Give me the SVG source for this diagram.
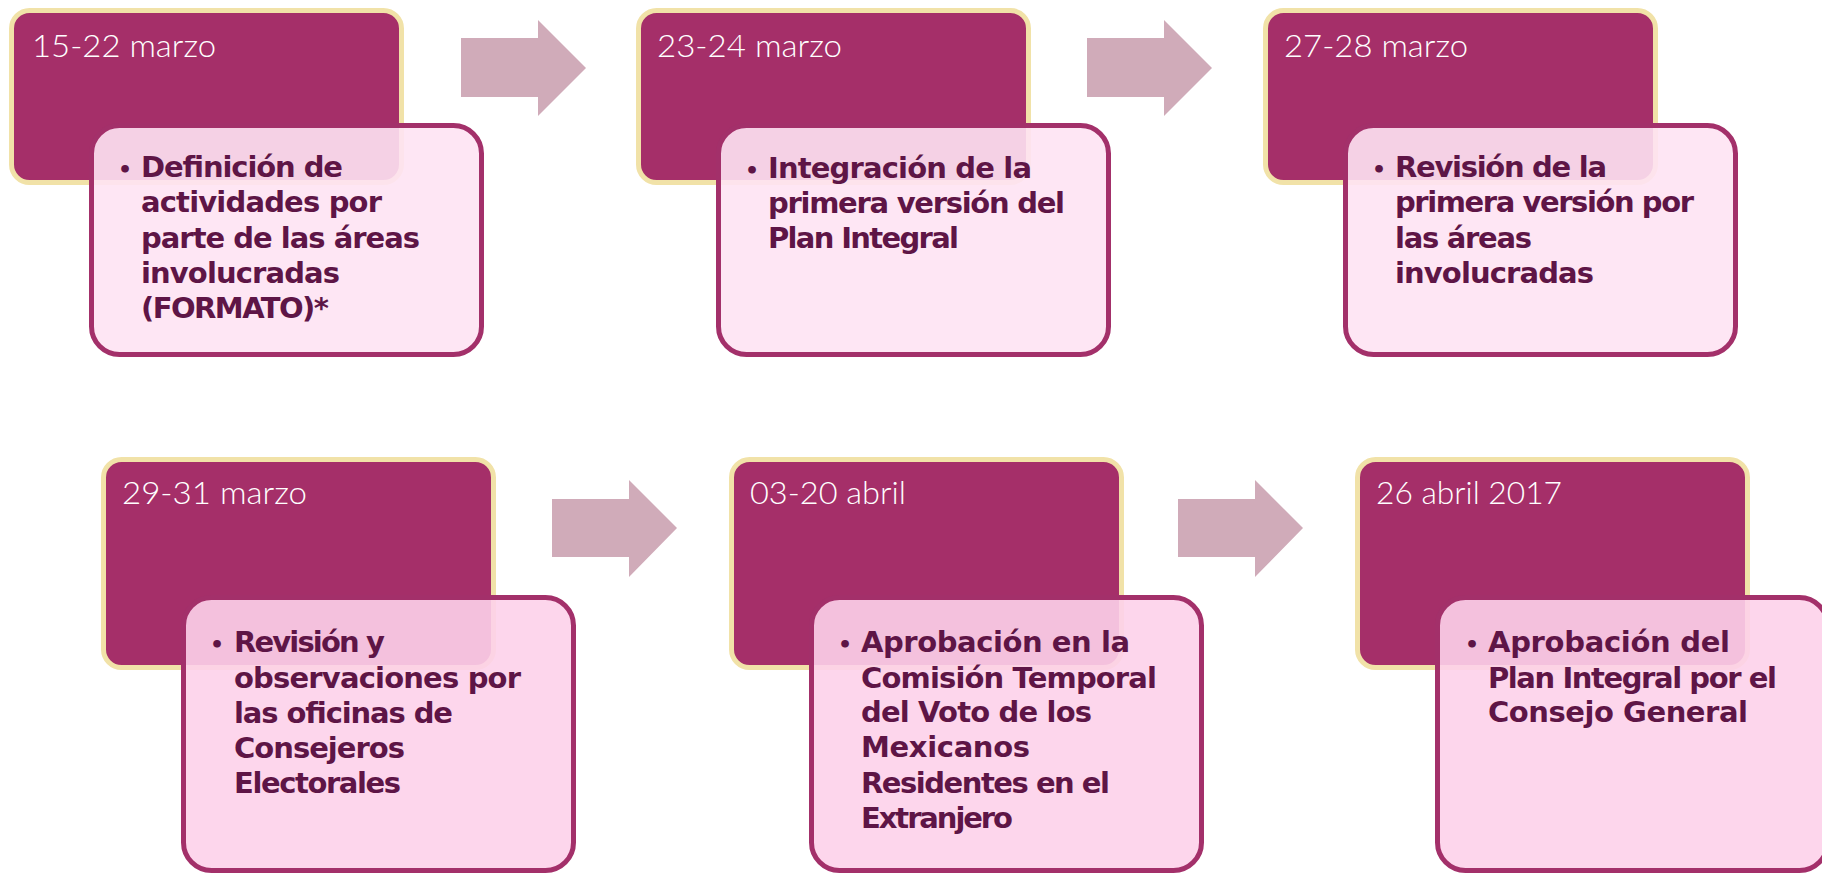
<svg xmlns="http://www.w3.org/2000/svg" width="1822" height="874" viewBox="0 0 1822 874">
<style>
.dark{fill:#A52F69;stroke:#F1E2A8;stroke-width:5}
.lt{fill:#FEE3F3;fill-opacity:0.9;stroke:#A3306A;stroke-width:5}
.lb{fill:#FDD1EA;fill-opacity:0.9;stroke:#A3306A;stroke-width:5}
.date{font-family:Lato,"Open Sans","Liberation Sans",sans-serif;font-weight:300;font-size:31px;fill:#FFFFFF}
.body{font-family:"DejaVu Sans","Liberation Sans",sans-serif;font-weight:bold;font-size:29px;fill:#5E1546}
.bul{font-family:"DejaVu Sans","Liberation Sans",sans-serif;font-weight:bold;font-size:22px;fill:#5E1546;text-anchor:middle}
.arrow{fill:#D0ABB9}
</style>
<rect width="1822" height="874" fill="#FFFFFF"/>
<g id="connectors">
<polygon class="arrow" points="461,38 538,38 538,20 586,68 538,116 538,97 461,97"/>
<polygon class="arrow" points="1087,38 1164,38 1164,20 1212,68 1164,116 1164,97 1087,97"/>
<polygon class="arrow" points="552,499 629,499 629,480 677,528 629,577 629,557 552,557"/>
<polygon class="arrow" points="1178,499 1255,499 1255,480 1303,528 1255,577 1255,557 1178,557"/>
</g>
<g id="node1">
<rect class="dark" x="11.5" y="10.5" width="390" height="172" rx="18"/>
<text class="date" x="32" y="57" textLength="184" lengthAdjust="spacingAndGlyphs">15-22 marzo</text>
<rect class="lt" x="91.5" y="125.5" width="390" height="229" rx="28"/>
<text class="bul" x="125" y="177">•</text>
<text class="body" lengthAdjust="spacingAndGlyphs">
<tspan x="141" y="177" textLength="202">Definición de</tspan>
<tspan x="141" y="212" textLength="241">actividades por</tspan>
<tspan x="141" y="247.5" textLength="279">parte de las áreas</tspan>
<tspan x="141" y="283" textLength="199">involucradas</tspan>
<tspan x="141" y="318" textLength="188">(FORMATO)*</tspan>
</text>
</g>
<g id="node2">
<rect class="dark" x="638.5" y="10.5" width="390" height="172" rx="18"/>
<text class="date" x="657" y="57" textLength="185" lengthAdjust="spacingAndGlyphs">23-24 marzo</text>
<rect class="lt" x="718.5" y="125.5" width="390" height="229" rx="28"/>
<text class="bul" x="752" y="178">•</text>
<text class="body" lengthAdjust="spacingAndGlyphs">
<tspan x="768" y="178" textLength="264">Integración de la</tspan>
<tspan x="768" y="213" textLength="297">primera versión del</tspan>
<tspan x="768" y="248" textLength="191">Plan Integral</tspan>
</text>
</g>
<g id="node3">
<rect class="dark" x="1265.5" y="10.5" width="390" height="172" rx="18"/>
<text class="date" x="1284" y="57" textLength="184" lengthAdjust="spacingAndGlyphs">27-28 marzo</text>
<rect class="lt" x="1345.5" y="125.5" width="390" height="229" rx="28"/>
<text class="bul" x="1379" y="177">•</text>
<text class="body" lengthAdjust="spacingAndGlyphs">
<tspan x="1395" y="177" textLength="212">Revisión de la</tspan>
<tspan x="1395" y="212" textLength="299">primera versión por</tspan>
<tspan x="1395" y="248" textLength="137">las áreas</tspan>
<tspan x="1395" y="283" textLength="199">involucradas</tspan>
</text>
</g>
<g id="node4">
<rect class="dark" x="103.5" y="459.5" width="390" height="208" rx="18"/>
<text class="date" x="122" y="504" textLength="185" lengthAdjust="spacingAndGlyphs">29-31 marzo</text>
<rect class="lb" x="183.5" y="597.5" width="390" height="273" rx="28"/>
<text class="bul" x="217" y="652">•</text>
<text class="body" lengthAdjust="spacingAndGlyphs">
<tspan x="234" y="652" textLength="151">Revisión y</tspan>
<tspan x="234" y="688" textLength="287">observaciones por</tspan>
<tspan x="234" y="723" textLength="219">las oficinas de</tspan>
<tspan x="234" y="758" textLength="171">Consejeros</tspan>
<tspan x="234" y="793" textLength="167">Electorales</tspan>
</text>
</g>
<g id="node5">
<rect class="dark" x="731.5" y="459.5" width="390" height="208" rx="18"/>
<text class="date" x="750" y="504" textLength="156" lengthAdjust="spacingAndGlyphs">03-20 abril</text>
<rect class="lb" x="811.5" y="597.5" width="390" height="273" rx="28"/>
<text class="bul" x="845" y="652">•</text>
<text class="body" lengthAdjust="spacingAndGlyphs">
<tspan x="861" y="652" textLength="269">Aprobación en la</tspan>
<tspan x="861" y="688" textLength="296">Comisión Temporal</tspan>
<tspan x="861" y="722" textLength="231">del Voto de los</tspan>
<tspan x="861" y="757" textLength="169">Mexicanos</tspan>
<tspan x="861" y="793" textLength="249">Residentes en el</tspan>
<tspan x="861" y="828" textLength="152">Extranjero</tspan>
</text>
</g>
<g id="node6">
<rect class="dark" x="1357.5" y="459.5" width="390" height="208" rx="18"/>
<text class="date" x="1376" y="504" textLength="186" lengthAdjust="spacingAndGlyphs">26 abril 2017</text>
<rect class="lb" x="1437.5" y="597.5" width="390" height="273" rx="28"/>
<text class="bul" x="1472" y="652">•</text>
<text class="body" lengthAdjust="spacingAndGlyphs">
<tspan x="1488" y="652" textLength="242">Aprobación del</tspan>
<tspan x="1488" y="688" textLength="289">Plan Integral por el</tspan>
<tspan x="1488" y="722" textLength="260">Consejo General</tspan>
</text>
</g>
</svg>
